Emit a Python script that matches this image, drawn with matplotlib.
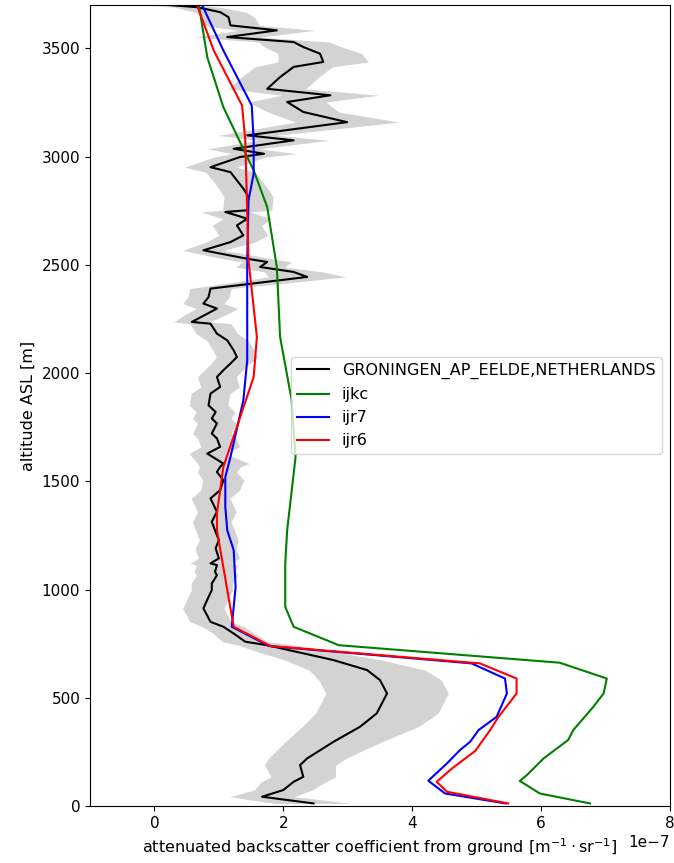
import numpy as np
import matplotlib
matplotlib.use("Agg")
import matplotlib.pyplot as plt

# observed profile (values in 1e-7 m-1 sr-1), altitude in m
obs_alt = [12, 43, 74, 112, 135, 189, 220, 297, 366, 428, 520, 582, 628, 674, 712,
           743, 759, 797, 828, 851, 913, 966, 997, 1028, 1066, 1082, 1113, 1121, 1144,
           1190, 1228, 1266, 1313, 1359, 1421, 1459, 1505, 1543, 1567, 1582, 1628,
           1659, 1698, 1721, 1767, 1790, 1820, 1851, 1905, 1936, 1982, 2013, 2044,
           2074, 2105, 2151, 2182, 2228, 2236, 2274, 2298, 2321, 2351, 2390, 2444,
           2467, 2490, 2513, 2528, 2567, 2605, 2636, 2682, 2713, 2744, 2752, 2813,
           2852, 2928, 2951, 2998, 3013, 3036, 3075, 3098, 3159, 3206, 3252, 3283,
           3313, 3367, 3414, 3437, 3475, 3506, 3529, 3552, 3583, 3606, 3644, 3667,
           3690, 3705]
obs_val = [2.47, 1.67, 2.00, 2.16, 2.31, 2.26, 2.37, 2.78, 3.19, 3.45, 3.61, 3.50, 3.30,
           2.78, 2.21, 1.75, 1.41, 1.23, 1.07, 0.87, 0.76, 0.84, 0.89, 0.89, 0.97, 0.94,
           0.97, 0.87, 1.00, 0.95, 1.00, 0.95, 0.89, 0.97, 0.87, 1.02, 1.07, 0.97, 1.02,
           1.07, 0.82, 1.02, 0.97, 0.89, 0.97, 0.89, 0.95, 0.84, 0.87, 1.02, 0.97, 1.07,
           1.18, 1.28, 1.23, 1.13, 0.97, 0.87, 0.58, 0.82, 0.97, 0.76, 0.84, 0.87, 2.37,
           2.16, 1.64, 1.75, 1.44, 0.76, 1.18, 1.38, 1.28, 1.44, 1.10, 1.44, 1.46, 1.38,
           1.18, 0.87, 1.33, 1.70, 1.23, 2.16, 1.44, 2.99, 2.31, 2.06, 2.73, 1.75, 1.95,
           2.16, 2.62, 2.57, 2.31, 2.16, 1.13, 1.90, 1.18, 1.15, 1.02, 0.66, 0.00]
obs_spread = [0.60, 0.50, 0.45, 0.50, 0.50, 0.55, 0.60, 0.75, 0.90, 0.95, 0.95, 0.95, 0.90,
              0.75, 0.60, 0.45, 0.35, 0.32, 0.32, 0.32, 0.32, 0.32, 0.32, 0.32, 0.32, 0.32,
              0.32, 0.32, 0.32, 0.32, 0.30, 0.30, 0.30, 0.30, 0.30, 0.30, 0.32, 0.30, 0.32,
              0.40, 0.28, 0.30, 0.30, 0.30, 0.30, 0.30, 0.30, 0.30, 0.30, 0.30, 0.30, 0.30,
              0.30, 0.32, 0.32, 0.32, 0.32, 0.32, 0.28, 0.32, 0.32, 0.32, 0.32, 0.32, 0.60,
              0.45, 0.38, 0.38, 0.38, 0.32, 0.38, 0.38, 0.38, 0.38, 0.38, 0.38, 0.38, 0.38,
              0.38, 0.40, 0.40, 0.50, 0.40, 0.55, 0.45, 0.80, 0.55, 0.60, 0.75, 0.60, 0.60,
              0.60, 0.70, 0.65, 0.60, 0.55, 0.50, 0.60, 0.45, 0.40, 0.40, 0.35, 0.30]

ijkc_alt = [12, 58, 116, 143, 220, 305, 351, 458, 520, 589, 662, 743, 828, 920, 1121,
            1274, 1612, 1874, 2167, 2489, 2767, 2936, 3228, 3459, 3700]
ijkc_val = [6.76, 5.98, 5.67, 5.78, 6.04, 6.42, 6.50, 6.81, 6.97, 7.02, 6.29, 2.86, 2.16,
            2.03, 2.03, 2.06, 2.19, 2.13, 1.95, 1.90, 1.75, 1.54, 1.07, 0.82, 0.69]

ijr7_alt = [12, 58, 117, 197, 258, 297, 351, 412, 520, 589, 659, 739, 828, 1012, 1182,
            1274, 1382, 1520, 1612, 1874, 2059, 2521, 2798, 2921, 3075, 3236, 3490, 3700]
ijr7_val = [5.45, 4.51, 4.25, 4.54, 4.74, 4.90, 5.03, 5.31, 5.47, 5.44, 4.92, 1.78, 1.20,
            1.26, 1.23, 1.13, 1.10, 1.10, 1.18, 1.38, 1.44, 1.44, 1.46, 1.54, 1.54, 1.51,
            1.07, 0.74]

ijr6_alt = [12, 66, 112, 174, 255, 351, 412, 520, 589, 659, 739, 828, 1274, 1351, 1567,
            1751, 1982, 2167, 2521, 3075, 3236, 3490, 3700]
ijr6_val = [5.49, 4.54, 4.38, 4.62, 4.98, 5.21, 5.34, 5.62, 5.62, 5.05, 1.80, 1.23, 0.97,
            0.97, 1.07, 1.28, 1.54, 1.59, 1.46, 1.41, 1.36, 0.92, 0.66]

scale = 1e-7
obs = np.array(obs_val) * scale
spread = np.array(obs_spread) * scale

plt.rcParams['font.size'] = 11

fig = plt.figure(figsize=(6.74, 8.63), dpi=100)
ax = fig.add_axes([0.1335, 0.066, 0.8605, 0.9282])

ax.fill_betweenx(obs_alt, obs - spread, obs + spread, color='lightgray', lw=0)
ax.plot(obs, obs_alt, color='black', label='GRONINGEN_AP_EELDE,NETHERLANDS')
ax.plot(np.array(ijkc_val) * scale, ijkc_alt, color='green', label='ijkc')
ax.plot(np.array(ijr7_val) * scale, ijr7_alt, color='blue', label='ijr7')
ax.plot(np.array(ijr6_val) * scale, ijr6_alt, color='red', label='ijr6')

ax.set_xlim(-1e-7, 8e-7)
ax.set_ylim(0, 3700)
ax.set_xticks([0, 2e-7, 4e-7, 6e-7, 8e-7])
ax.set_xlabel(r'attenuated backscatter coefficient from ground [$\mathrm{m}^{-1} \cdot \mathrm{sr}^{-1}$]',
              fontsize=11.5)
ax.set_ylabel('altitude ASL [m]', fontsize=11.5)
ax.legend(loc='center right', fontsize=11.5)

fig.savefig('out.png', dpi=100)
